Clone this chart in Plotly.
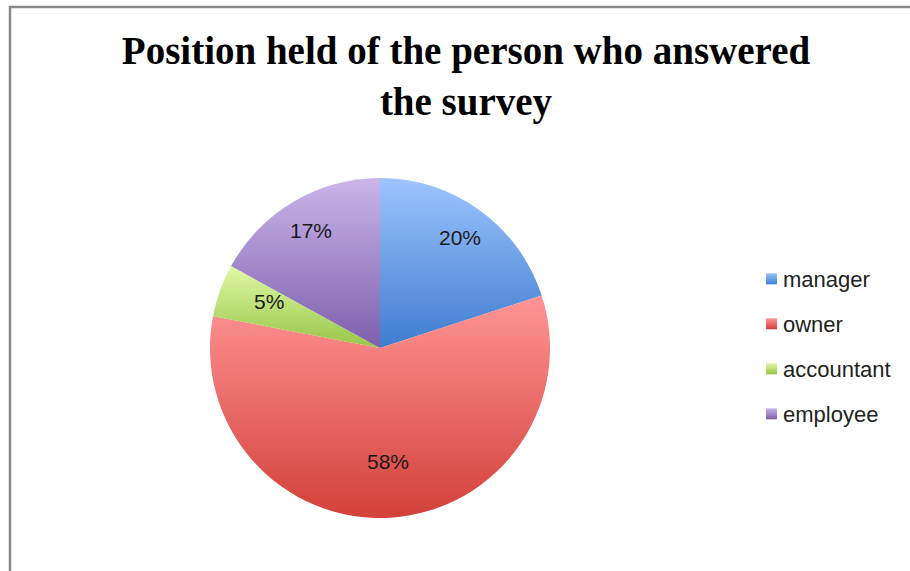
import json
import math
import plotly.graph_objects as go

# Survey answers: position held by the respondent (percent)
positions = ["manager", "owner", "accountant", "employee"]
shares = [20, 58, 5, 17]

# Slice fills: light at the top of each slice, darker at the bottom
fill_top = ["#9dc4ff", "#ff9595", "#e0f9a6", "#cbb5ea"]
fill_bottom = ["#3f7ccf", "#d3403a", "#98c447", "#7d5fab"]
fill_mid = ["#6da0e8", "#ec6f6b", "#bedf78", "#a58acb"]

W, H = 910, 571
cx, cy, R = 380, 348, 170  # pie centre and radius in pixels

fig = go.Figure()
fig.add_trace(go.Pie(
    labels=positions,
    values=shares,
    sort=False,
    direction="clockwise",
    rotation=0,
    textinfo="none",
    hoverinfo="label+percent",
    marker=dict(colors=fill_mid, line=dict(width=0)),
    domain=dict(x=[(cx - R) / W, (cx + R) / W],
                y=[1 - (cy + R) / H, 1 - (cy - R) / H]),
))

# Percentage labels placed along each slice's mid angle
total = sum(shares)
start = 0.0
annotations = []
for name, v in zip(positions, shares):
    frac = v / total
    mid = (start + frac / 2) * 2 * math.pi
    start += frac
    rf = 0.75 if frac > 0.5 else 0.8
    px = cx + rf * R * math.sin(mid)
    py = cy - rf * R * math.cos(mid)
    annotations.append(dict(
        x=px / W, y=1 - py / H, xref="paper", yref="paper",
        text=f"{round(frac * 100)}%", showarrow=False,
        font=dict(family="Liberation Sans", size=21, color="#1a1a1a"),
    ))

fig.update_layout(
    width=W, height=H,
    margin=dict(l=0, r=0, t=0, b=0),
    paper_bgcolor="white",
    plot_bgcolor="white",
    title=dict(
        text="Position held of the person who answered<br>the survey",
        x=466 / W, xanchor="center",
        y=1 - 64 / H, yanchor="top",
        font=dict(family="Liberation Serif", size=39, color="black", weight="bold"),
    ),
    legend=dict(
        x=743 / W, xanchor="left",
        y=1 - 258 / H, yanchor="top",
        font=dict(family="Liberation Sans", size=22, color="#222222"),
        bgcolor="rgba(0,0,0,0)",
        itemclick=False, itemdoubleclick=False,
    ),
    annotations=annotations,
    shapes=[
        dict(type="line", xref="paper", yref="paper",
             x0=10 / W, x1=1, y0=1 - 7 / H, y1=1 - 7 / H,
             line=dict(color="#8a8a8a", width=2.5)),
        dict(type="line", xref="paper", yref="paper",
             x0=10 / W, x1=10 / W, y0=1 - 6 / H, y1=0,
             line=dict(color="#8a8a8a", width=2.5)),
    ],
)

grads = json.dumps([[t, b] for t, b in zip(fill_top, fill_bottom)])

# Vertical gradient fills on the slices and legend swatches, plus wider legend spacing
post = """
var gd = document.getElementById('{plot_id}');
var GR = %s;
function styleChart() {
  var ns = 'http://www.w3.org/2000/svg';
  var svg = gd.querySelector('.main-svg');
  var defs = svg.querySelector('defs');
  if (!defs) { defs = document.createElementNS(ns, 'defs'); svg.insertBefore(defs, svg.firstChild); }
  GR.forEach(function(g, i) {
    var id = 'sliceGrad' + i;
    if (!svg.querySelector('#' + id)) {
      var lg = document.createElementNS(ns, 'linearGradient');
      lg.setAttribute('id', id);
      lg.setAttribute('x1', '0'); lg.setAttribute('y1', '0');
      lg.setAttribute('x2', '0'); lg.setAttribute('y2', '1');
      [[0, g[0]], [1, g[1]]].forEach(function(s) {
        var st = document.createElementNS(ns, 'stop');
        st.setAttribute('offset', s[0]);
        st.setAttribute('stop-color', s[1]);
        lg.appendChild(st);
      });
      defs.appendChild(lg);
    }
  });
  gd.querySelectorAll('.slice path.surface').forEach(function(p, i) {
    p.style.fill = 'url(#sliceGrad' + i + ')';
  });
  var sb = gd.querySelector('.legend .scrollbox');
  if (sb) sb.removeAttribute('clip-path');
  var items = gd.querySelectorAll('.legend .traces');
  var y0 = null;
  items.forEach(function(t, i) {
    var m = /translate\\(([-\\d.]+),\\s*([-\\d.]+)\\)/.exec(t.getAttribute('transform') || '');
    if (!m) return;
    if (y0 === null) y0 = parseFloat(m[2]);
    t.setAttribute('transform', 'translate(' + m[1] + ',' + (y0 + i * 45) + ')');
    var sw = t.querySelector('path.legendpie');
    if (sw) {
      sw.style.fill = 'url(#sliceGrad' + i + ')';
      sw.style.strokeWidth = '0';
      sw.setAttribute('transform', 'translate(28.5,0) scale(0.92)');
    }
  });
}
styleChart();
""" % grads

fig.write_html("out.html", post_script=post)
